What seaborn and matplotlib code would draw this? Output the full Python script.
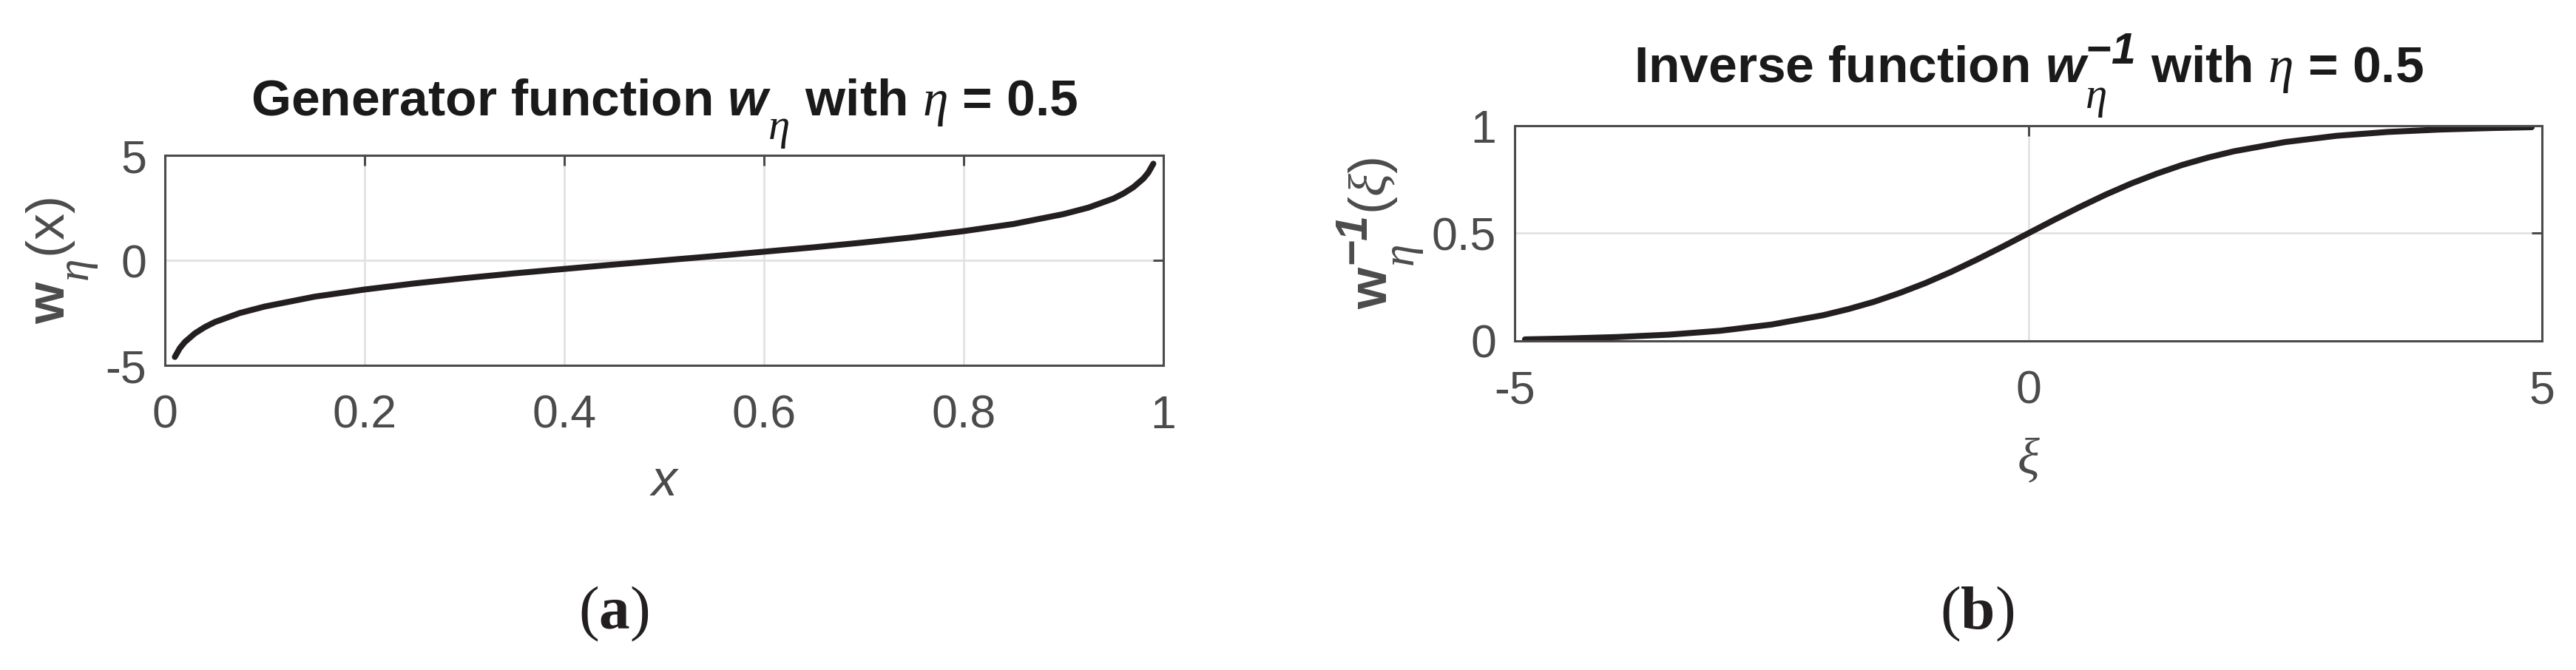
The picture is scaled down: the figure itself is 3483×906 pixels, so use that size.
# two panel figure: generator function and its inverse
import numpy as np
import pandas as pd
import seaborn as sns
import matplotlib.pyplot as plt
import matplotlib._mathtext as mathtext_internals

# values
gen_x = [0.01, 0.015, 0.02, 0.03, 0.04, 0.05, 0.075, 0.1, 0.15, 0.2, 0.25, 0.3, 0.35,
         0.4, 0.45, 0.5, 0.55, 0.6, 0.65, 0.7, 0.75, 0.8, 0.85, 0.9, 0.925, 0.95,
         0.96, 0.97, 0.98, 0.985, 0.99]
gen_w = [-4.6, -4.18, -3.89, -3.48, -3.18, -2.94, -2.51, -2.2, -1.73, -1.39, -1.1, -0.85, -0.62,
         -0.41, -0.2, 0.0, 0.2, 0.41, 0.62, 0.85, 1.1, 1.39, 1.73, 2.2, 2.51, 2.94,
         3.18, 3.48, 3.89, 4.18, 4.6]

inv_xi = [-4.9, -4.5, -4.0, -3.5, -3.0, -2.5, -2.0, -1.75, -1.5, -1.25, -1.0, -0.75, -0.5,
          -0.25, 0.0, 0.25, 0.5, 0.75, 1.0, 1.25, 1.5, 1.75, 2.0, 2.5, 3.0, 3.5,
          4.0, 4.5, 4.9]
inv_w = [0.007, 0.011, 0.018, 0.029, 0.047, 0.076, 0.119, 0.148, 0.182, 0.223, 0.269, 0.321, 0.378,
         0.438, 0.5, 0.562, 0.622, 0.679, 0.731, 0.777, 0.818, 0.852, 0.881, 0.924, 0.953, 0.971,
         0.982, 0.989, 0.993]

gen_xticks = [0, 0.2, 0.4, 0.6, 0.8, 1]
gen_xticklabels = ['0', '0.2', '0.4', '0.6', '0.8', '1']
gen_yticks = [-5, 0, 5]
gen_yticklabels = ['-5', '0', '5']
inv_xticks = [-5, 0, 5]
inv_xticklabels = ['-5', '0', '5']
inv_yticks = [0, 0.5, 1]
inv_yticklabels = ['0', '0.5', '1']

sns.set_style('white')
plt.rcParams.update({
    'font.family': ['Liberation Sans', 'DejaVu Sans'],
    'mathtext.fontset': 'custom',
    'mathtext.rm': 'Liberation Sans',
    'mathtext.it': 'Liberation Serif:italic',
    'mathtext.bf': 'Liberation Serif:bold',
    'mathtext.sf': 'Liberation Sans:bold',
    'mathtext.bfit': 'Liberation Sans:bold:italic',
})

# matlab-like tex: bigger scripts, subscripts dropped lower
mathtext_internals.SHRINK_FACTOR = 0.85
mathtext_internals.FontConstantsBase.sub1 = 1.0
mathtext_internals.FontConstantsBase.sub2 = 1.1
mathtext_internals.FontConstantsBase.sup1 = 0.8

GREY = '#4b4b4b'
INK = '#231f20'

fig = plt.figure(figsize=(34.83, 9.06), dpi=100)
ax1 = fig.add_axes([0.0640, 0.4547, 0.3876, 0.3135])
ax2 = fig.add_axes([0.5880, 0.4912, 0.3988, 0.3212])

df_gen = pd.DataFrame({'x': gen_x, 'w': gen_w})
df_inv = pd.DataFrame({'xi': inv_xi, 'w': inv_w})

sns.lineplot(data=df_gen, x='x', y='w', ax=ax1, color=INK, linewidth=5.8)
sns.lineplot(data=df_inv, x='xi', y='w', ax=ax2, color=INK, linewidth=5.8)


def style_axes(ax, xt, xtl, yt, ytl, xlim, ylim):
    ax.set_xlim(xlim)
    ax.set_ylim(ylim)
    ax.set_xticks(xt, xtl)
    ax.set_yticks(yt, ytl)
    ax.grid(True, color='#e2e2e2', linewidth=2)
    ax.set_axisbelow(True)
    for s in ax.spines.values():
        s.set_visible(True)
        s.set_color(GREY)
        s.set_linewidth(2.2)
    ax.tick_params(direction='in', top=True, right=True, length=10, width=2.2,
                   color=GREY, labelcolor=GREY, labelsize=45)
    ax.tick_params(axis='x', pad=28)
    ax.tick_params(axis='y', pad=18)


style_axes(ax1, gen_xticks, gen_xticklabels, gen_yticks, gen_yticklabels, (0, 1), (-5, 5))
style_axes(ax2, inv_xticks, inv_xticklabels, inv_yticks, inv_yticklabels, (-5, 5), (0, 1))

# titles
ax1.set_title(r'Generator function $\mathbfit{w}_{\eta}$ with $\eta$ = 0.5',
              fontsize=50, fontweight='bold', color='#1a1a1a', y=1.187, pad=0)
ax2.set_title(r'Inverse function $\mathbfit{w}_{\eta}^{\mathbfit{-1}}$ with $\eta$ = 0.5',
              fontsize=50, fontweight='bold', color='#1a1a1a', y=1.196, pad=0)

# axis labels
ax1.set_xlabel('x', fontsize=50, fontstyle='italic', color=GREY)
ax1.xaxis.set_label_coords(0.5, -0.62)
ax1.xaxis.label.set_va('baseline')
ax1.set_ylabel(r'$\mathsf{w}_{\eta}(\mathrm{x})$', fontsize=52, color=GREY)
ax1.yaxis.set_label_coords(-0.100, 0.5)
ax1.yaxis.label.set_va('baseline')

ax2.set_xlabel(r'$\xi$', fontsize=50, color=GREY)
ax2.xaxis.set_label_coords(0.5, -0.622)
ax2.xaxis.label.set_va('baseline')
ax2.set_ylabel(r'$\mathsf{w}_{\eta}^{\mathbfit{-1}}(\xi)$', fontsize=52, color=GREY)
ax2.yaxis.set_label_coords(-0.123, 0.5)
ax2.yaxis.label.set_va('baseline')

# panel letters
fig.text(0.2383, 0.0618, r'($\mathbf{a}$)', family='Liberation Serif', fontsize=60,
         ha='center', va='baseline', color=INK)
fig.text(0.7675, 0.0618, r'($\mathbf{b}$)', family='Liberation Serif', fontsize=60,
         ha='center', va='baseline', color=INK)

fig.savefig('out.png', dpi=100)
